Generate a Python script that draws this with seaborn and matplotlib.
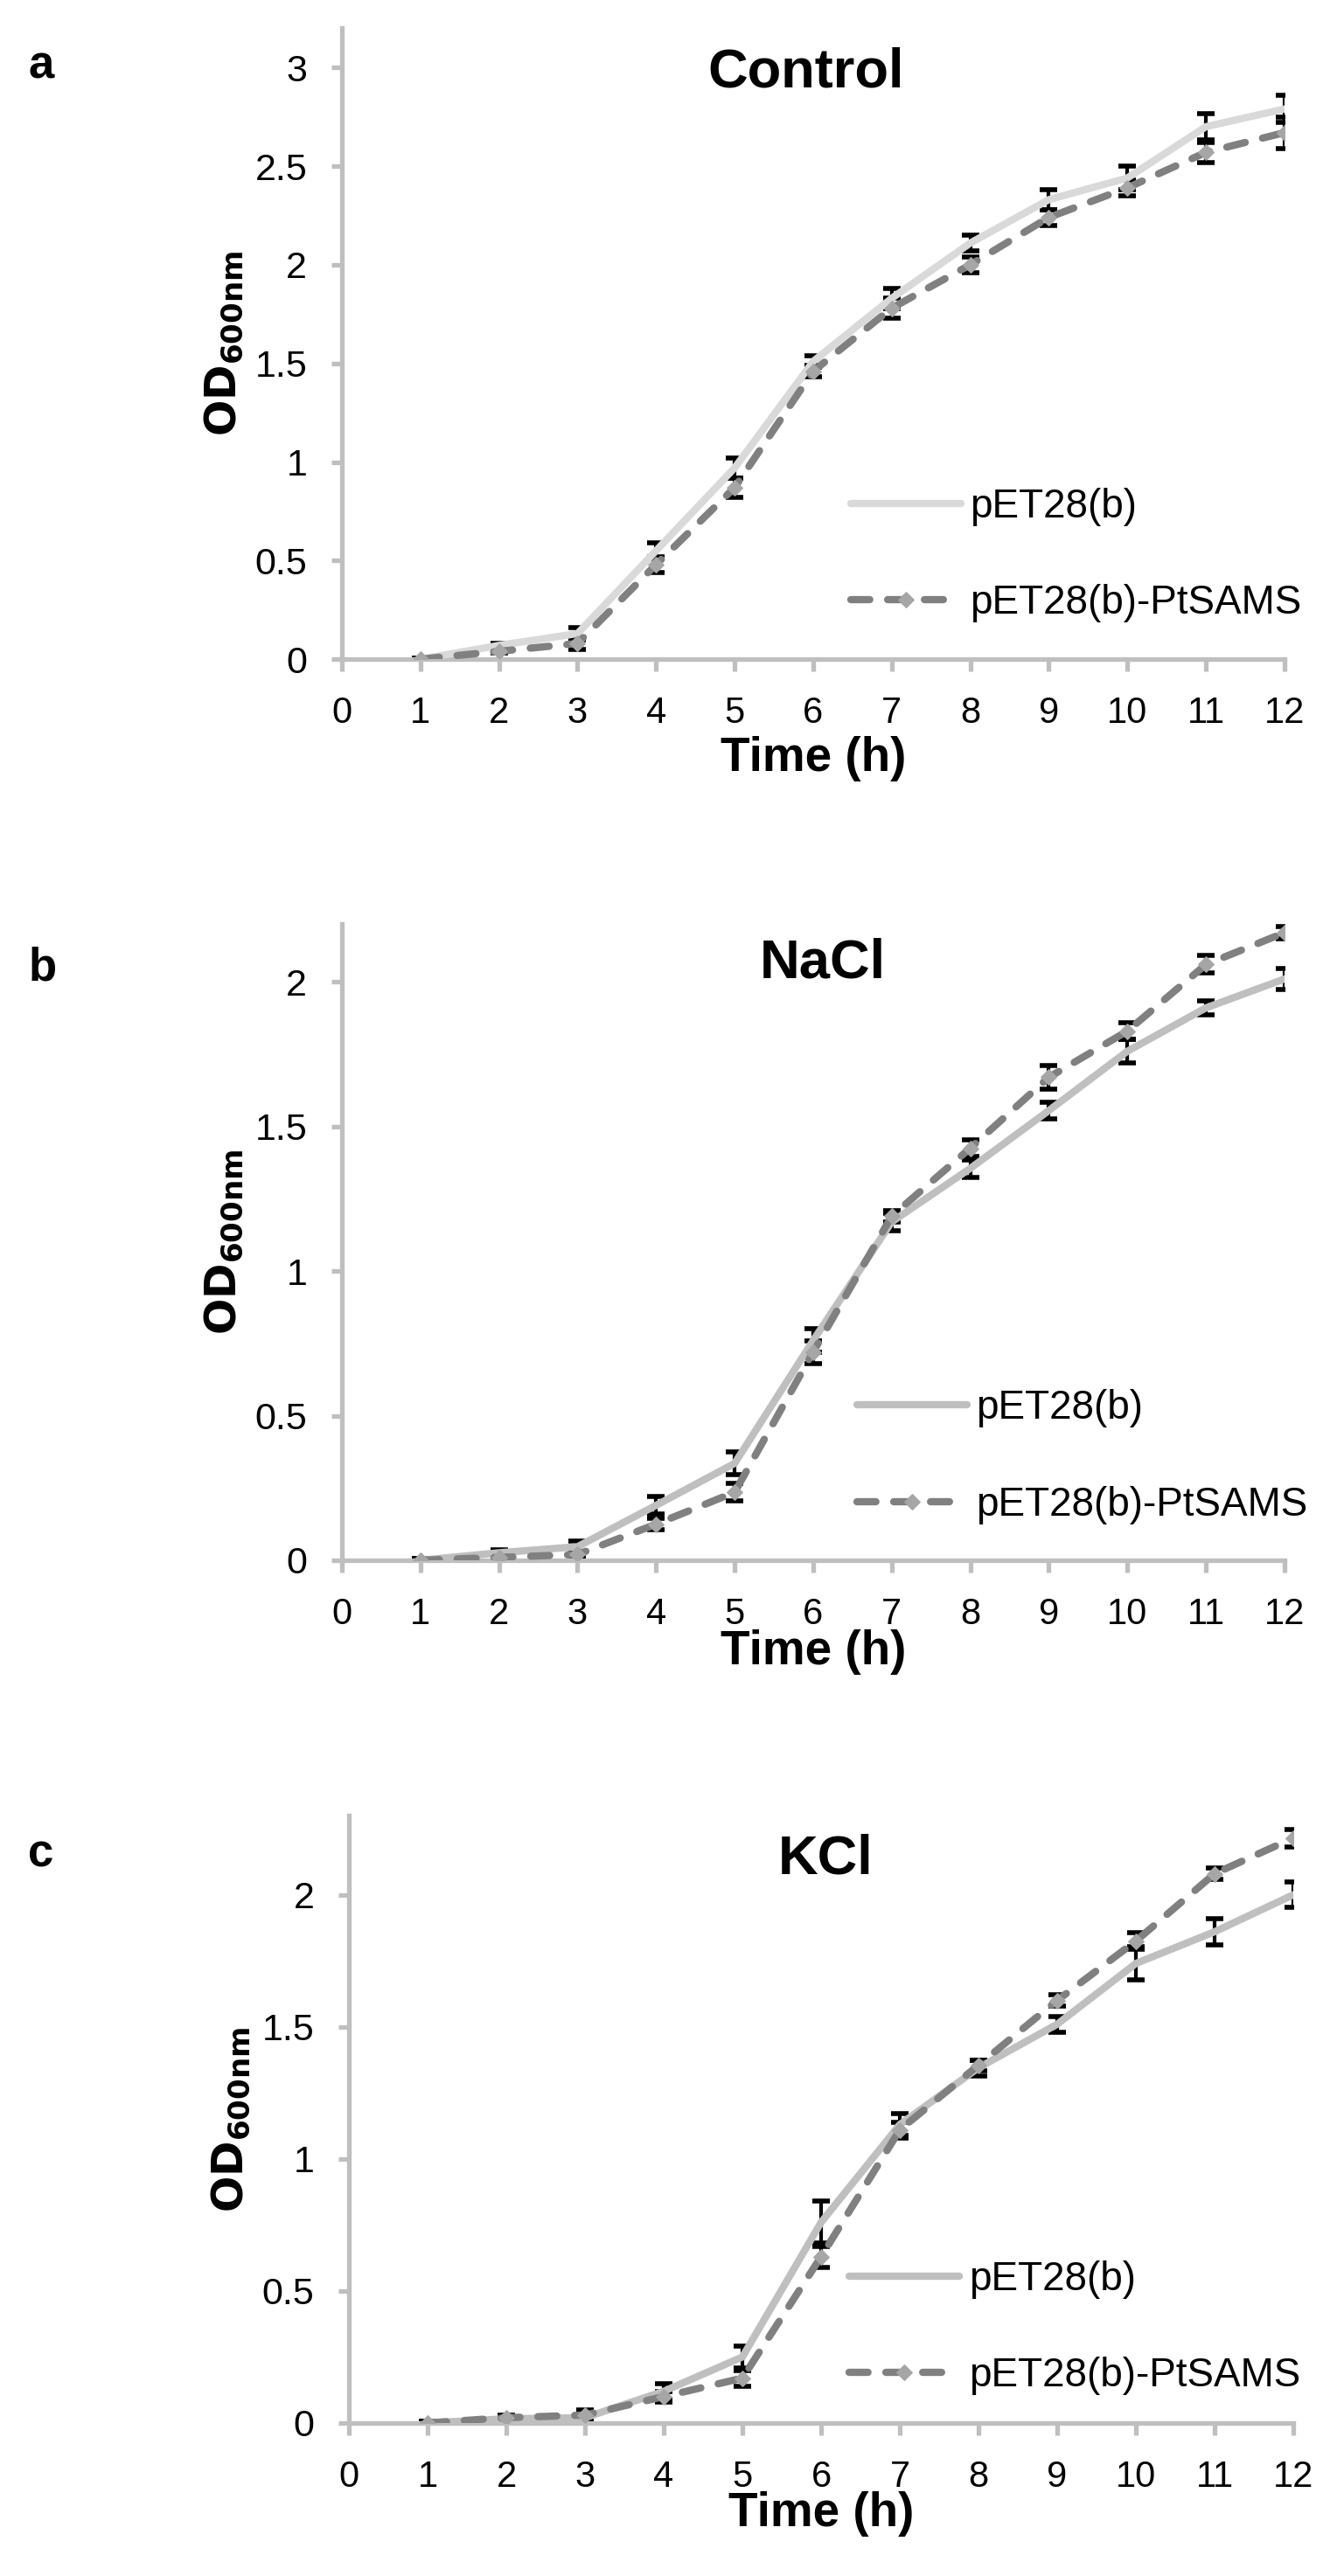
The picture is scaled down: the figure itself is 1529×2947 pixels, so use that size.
import matplotlib
matplotlib.use("Agg")
import matplotlib.pyplot as plt
from matplotlib.ticker import FuncFormatter, MultipleLocator
import seaborn as sns
import pandas as pd

# time points (h)
hours = [1, 2, 3, 4, 5, 6, 7, 8, 9, 10, 11, 12]

# Control
control_pet = [0, 0.07, 0.13, 0.55, 0.97, 1.51, 1.83, 2.11, 2.33, 2.44, 2.70, 2.79]
control_pet_err = [0.005, 0.01, 0.03, 0.04, 0.05, 0.03, 0.05, 0.04, 0.05, 0.06, 0.065, 0.07]
control_sams = [0, 0.04, 0.08, 0.48, 0.87, 1.46, 1.78, 2.00, 2.24, 2.39, 2.57, 2.67]
control_sams_err = [0.005, 0.01, 0.03, 0.04, 0.05, 0.03, 0.05, 0.04, 0.04, 0.04, 0.05, 0.08]

# NaCl
nacl_pet = [0, 0.026, 0.047, 0.19, 0.335, 0.76, 1.17, 1.355, 1.555, 1.76, 1.91, 2.01]
nacl_pet_err = [0.005, 0.01, 0.02, 0.03, 0.04, 0.04, 0.03, 0.03, 0.03, 0.04, 0.025, 0.035]
nacl_sams = [0, 0.01, 0.02, 0.125, 0.235, 0.72, 1.19, 1.425, 1.67, 1.83, 2.06, 2.17]
nacl_sams_err = [0.005, 0.01, 0.01, 0.02, 0.03, 0.04, 0.02, 0.03, 0.04, 0.03, 0.03, 0.02]

# KCl
kcl_pet = [0, 0.016, 0.02, 0.12, 0.25, 0.76, 1.13, 1.345, 1.51, 1.74, 1.86, 2.0]
kcl_pet_err = [0.005, 0.01, 0.01, 0.03, 0.04, 0.08, 0.04, 0.03, 0.03, 0.063, 0.05, 0.047]
kcl_sams = [0, 0.02, 0.03, 0.10, 0.17, 0.63, 1.11, 1.355, 1.6, 1.825, 2.08, 2.215]
kcl_sams_err = [0.005, 0.01, 0.02, 0.02, 0.03, 0.04, 0.03, 0.02, 0.02, 0.03, 0.02, 0.033]

series_labels = ["pET28(b)", "pET28(b)-PtSAMS"]
titles = ["Control", "NaCl", "KCl"]
panel_letters = ["a", "b", "c"]

sns.set_style("white")
plt.rcParams["font.family"] = ["Liberation Sans", "DejaVu Sans"]
plt.rcParams["mathtext.fontset"] = "dejavusans"
plt.rcParams["text.color"] = "black"
plt.rcParams["axes.labelcolor"] = "black"
plt.rcParams["xtick.labelcolor"] = "black"
plt.rcParams["ytick.labelcolor"] = "black"

fig = plt.figure(figsize=(15.29, 29.47), dpi=100)

# axes rect, ymax, light colour, title pos, legend anchor, xlabel y, letter y
panels = [
    dict(rect=[0.2557, 0.7441, 0.7050, 0.2450], ymax=3.2, light="#d9d9d9",
         pet=control_pet, pet_err=control_pet_err, sams=control_sams, sams_err=control_sams_err,
         title_xy=(0.4926, 0.907), leg=(0.54, 0.165), xlab_y=-0.122, letter_y=0.9695),
    dict(rect=[0.2557, 0.3943, 0.7050, 0.2470], ymax=2.2, light="#bfbfbf",
         pet=nacl_pet, pet_err=nacl_pet_err, sams=nacl_sams, sams_err=nacl_sams_err,
         title_xy=(0.51, 0.916), leg=(0.546, 0.163), xlab_y=-0.108, letter_y=0.6196),
    dict(rect=[0.2610, 0.0594, 0.7063, 0.2358], ymax=2.3, light="#bfbfbf",
         pet=kcl_pet, pet_err=kcl_pet_err, sams=kcl_sams, sams_err=kcl_sams_err,
         title_xy=(0.505, 0.904), leg=(0.53, 0.157), xlab_y=-0.113, letter_y=0.2752),
]

spine_col = "#bfbfbf"

for i, p in enumerate(panels):
    ax = fig.add_axes(p["rect"])
    df = pd.DataFrame({"time": hours, "pet": p["pet"], "sams": p["sams"]})

    # error bars sit under the lines
    ax.errorbar(hours, p["pet"], yerr=p["pet_err"], fmt="none", ecolor="black",
                elinewidth=3, capsize=7, capthick=4, zorder=1)
    ax.errorbar(hours, p["sams"], yerr=p["sams_err"], fmt="none", ecolor="black",
                elinewidth=3, capsize=7, capthick=4, zorder=1)

    sns.lineplot(data=df, x="time", y="pet", ax=ax, color=p["light"], linewidth=6,
                 solid_capstyle="round", label=series_labels[0], legend=False, zorder=3)
    sns.lineplot(data=df, x="time", y="sams", ax=ax, color="#808080", linewidth=6,
                 linestyle=(0, (2.6, 2.45)), dash_capstyle="round",
                 marker="D", markersize=9, markerfacecolor="#a6a6a6",
                 markeredgecolor="#a6a6a6", label=series_labels[1], legend=False, zorder=4)

    ax.set_xlim(0, 12)
    ax.set_ylim(0, p["ymax"])
    ax.xaxis.set_major_locator(MultipleLocator(1))
    ax.yaxis.set_major_locator(MultipleLocator(0.5))
    ax.yaxis.set_major_formatter(FuncFormatter(lambda v, _: f"{v:g}"))

    for s in ["top", "right"]:
        ax.spines[s].set_visible(False)
    for s in ["left", "bottom"]:
        ax.spines[s].set_color(spine_col)
        ax.spines[s].set_linewidth(3.8)
    ax.tick_params(axis="both", direction="out", color=spine_col, width=3.8, pad=20,
                   labelcolor="black")
    ax.tick_params(axis="y", length=8.6, labelsize=31, left=True)
    ax.tick_params(axis="x", length=10, labelsize=30, bottom=True)

    ax.set_xlabel("Time (h)", fontsize=39.5, fontweight="bold", color="black")
    ax.xaxis.set_label_coords(0.5, p["xlab_y"])
    ax.set_ylabel(r"$\mathbf{OD}_{\mathbf{600nm}}$", fontsize=35, color="black")
    ax.yaxis.set_label_coords(-0.103, 0.5)

    ax.text(p["title_xy"][0], p["title_xy"][1], titles[i], transform=ax.transAxes,
            ha="center", va="baseline", fontsize=45.5, fontweight="bold", color="black")

    handles = ax.get_lines()[-2:]
    leg = ax.legend(handles=handles, labels=series_labels, loc="center left",
                    bbox_to_anchor=p["leg"], frameon=False, fontsize=33, handlelength=2.75,
                    handletextpad=0.22, labelspacing=1.45, borderpad=0, borderaxespad=0)
    for t in leg.get_texts():
        t.set_color("black")

    fig.text(0.021, p["letter_y"], panel_letters[i], ha="left", va="baseline",
             fontsize=38, fontweight="bold", color="black")

fig.savefig("out.png", dpi=100)
